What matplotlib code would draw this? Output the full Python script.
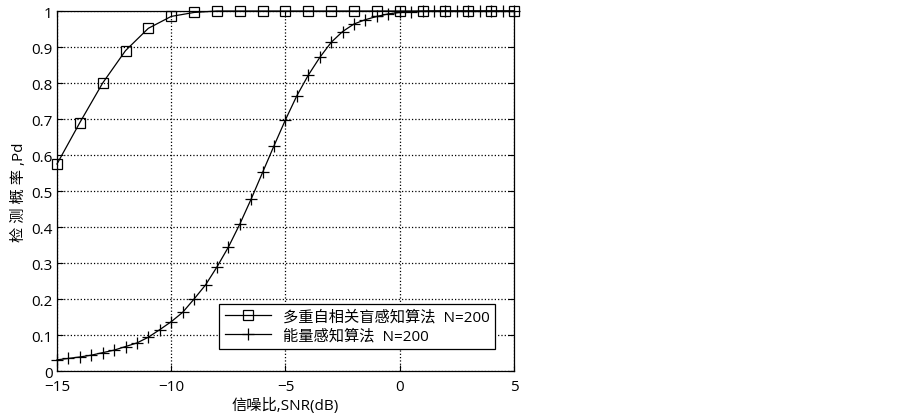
import matplotlib
matplotlib.use('Agg')
import matplotlib.pyplot as plt
import numpy as np

plt.rcParams['font.family'] = ['Open Sans', 'Noto Sans CJK SC', 'DejaVu Sans']

# 多重自相关盲感知算法 (步长 1 dB)
snr_sq = np.arange(-15, 6, 1)
pd_sq = [0.575, 0.69, 0.80, 0.89, 0.952, 0.985, 0.996, 1.0, 1.0, 1.0, 1.0,
         1.0, 1.0, 1.0, 1.0, 1.0, 1.0, 1.0, 1.0, 1.0, 1.0]

# 能量感知算法 (步长 0.5 dB)
snr_en = np.arange(-15, 5.5, 0.5)
pd_en = [0.031, 0.035, 0.039, 0.044, 0.051, 0.058, 0.068, 0.078, 0.094, 0.115,
         0.137, 0.163, 0.200, 0.239, 0.289, 0.344, 0.408, 0.478, 0.552, 0.626,
         0.698, 0.765, 0.822, 0.871, 0.913, 0.943, 0.964, 0.976, 0.985, 0.992,
         0.996, 0.998, 0.999, 1.0, 1.0, 1.0, 1.0, 1.0, 1.0, 1.0, 1.0]

fig = plt.figure(figsize=(9.03, 4.14), dpi=100)
ax = fig.add_axes([0.0631, 0.1014, 0.5061, 0.8696])

ax.plot(snr_sq, pd_sq, 'k-', marker='s', markersize=7, markerfacecolor='none',
        markeredgewidth=0.9, linewidth=0.9, label='多重自相关盲感知算法  N=200', clip_on=False)
ax.plot(snr_en, pd_en, 'k-', marker='+', markersize=9, markeredgewidth=0.9,
        linewidth=0.9, label='能量感知算法  N=200', clip_on=False)

ax.set_xlim(-15, 5)
ax.set_ylim(0, 1)
ax.set_xticks([-15, -10, -5, 0, 5])
ax.set_yticks(np.arange(0, 1.01, 0.1))
ax.set_yticklabels(['0', '0.1', '0.2', '0.3', '0.4', '0.5', '0.6', '0.7', '0.8', '0.9', '1'])
ax.grid(True, color='black', linestyle=':', linewidth=0.9)
ax.tick_params(direction='in', top=True, right=True, labelsize=11, length=4)
ax.tick_params(axis='x', pad=6)
ax.tick_params(axis='y', pad=3)
for s in ax.spines.values():
    s.set_linewidth(0.9)

ax.set_xlabel('信噪比,SNR(dB)', fontsize=11, labelpad=2)
ax.set_ylabel('检 测 概 率 ,Pd', fontsize=11, labelpad=3)

leg = ax.legend(loc='lower right', fontsize=11, frameon=True, fancybox=False,
                edgecolor='black', framealpha=1, borderpad=0.35, handlelength=3,
                labelspacing=0.3, bbox_to_anchor=(0.975, 0.04))
leg.get_frame().set_linewidth(0.9)

fig.savefig('out.png', dpi=100)
